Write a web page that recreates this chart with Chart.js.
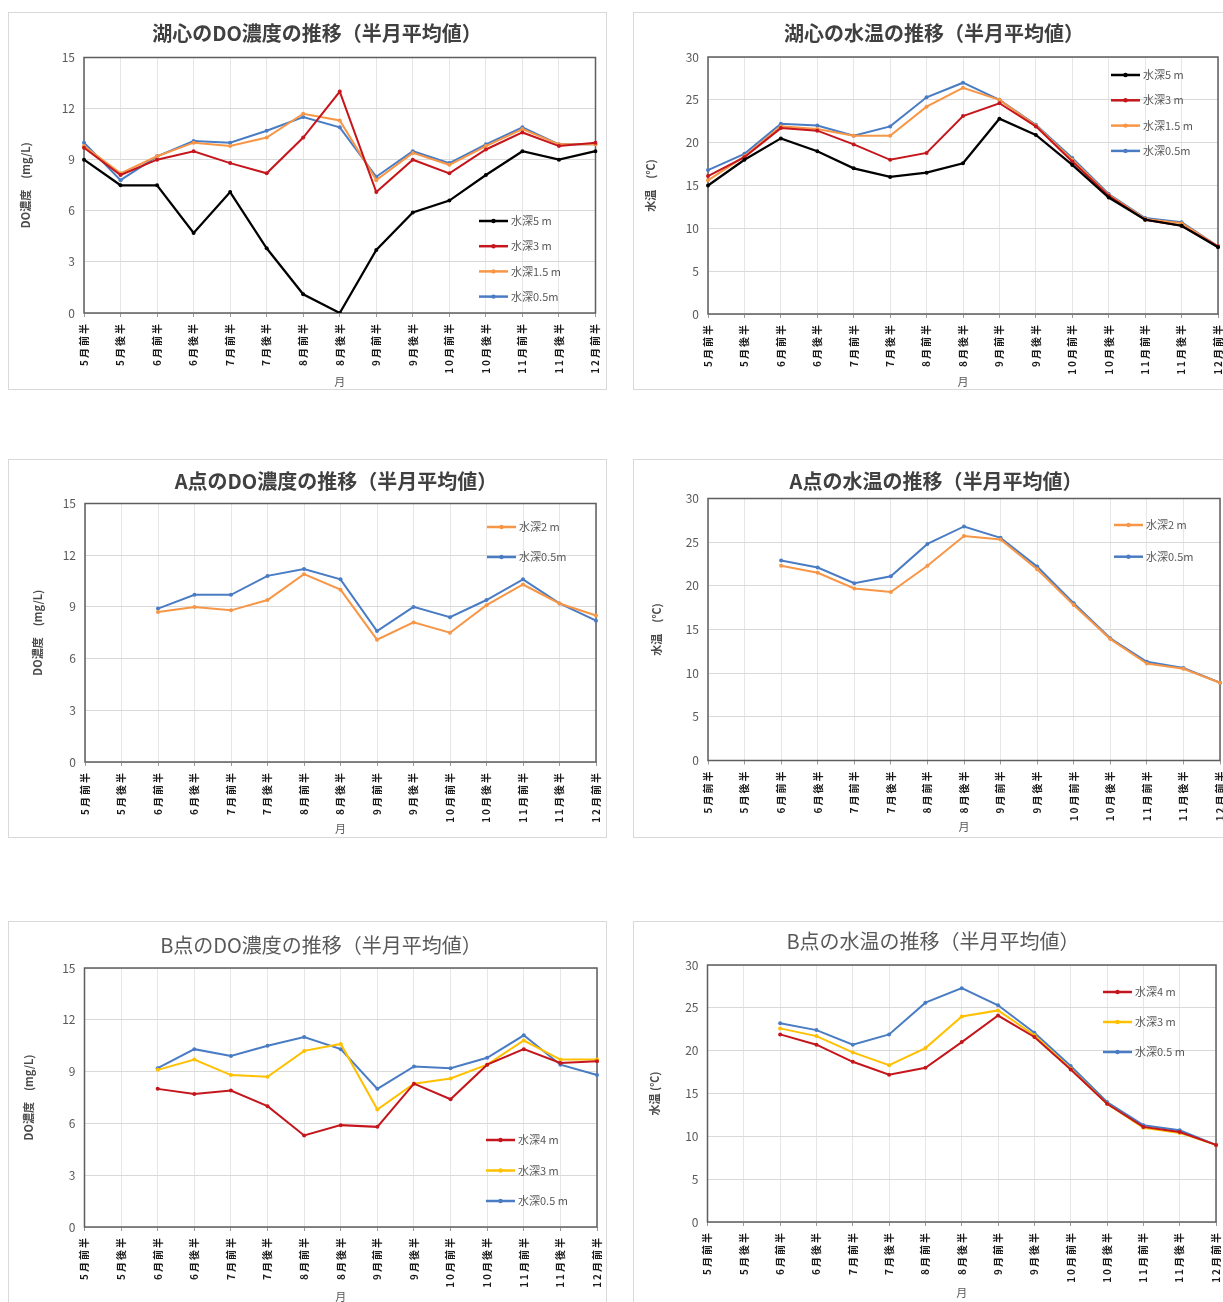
<!DOCTYPE html>
<html lang="ja">
<head>
<meta charset="utf-8">
<title>DO濃度・水温の推移（半月平均値）</title>
<script src="https://cdn.jsdelivr.net/npm/chart.js@4.4.1/dist/chart.umd.min.js"></script>
<style>
  html, body { margin: 0; padding: 0; background: #ffffff; overflow: hidden; width: 1223px; height: 1302px; }
  .frame { position: absolute; border: 1px solid #d9d9d9; box-sizing: border-box; background: #ffffff; }
  canvas { position: absolute; }
</style>
</head>
<body>
<script>
// ---- data -------------------------------------------------------------
const halfMonths = ['5月前半', '5月後半', '6月前半', '6月後半', '7月前半', '7月後半', '8月前半', '8月後半',
                    '9月前半', '9月後半', '10月前半', '10月後半', '11月前半', '11月後半', '12月前半'];

const doTicks = [0, 3, 6, 9, 12, 15];
const tempTicks = [0, 5, 10, 15, 20, 25, 30];

// 湖心 DO (mg/L)
const lakeDo5m  = [9.0, 7.5, 7.5, 4.7, 7.1, 3.8, 1.1, 0.0, 3.7, 5.9, 6.6, 8.1, 9.5, 9.0, 9.5];
const lakeDo3m  = [9.7, 8.1, 9.0, 9.5, 8.8, 8.2, 10.3, 13.0, 7.1, 9.0, 8.2, 9.6, 10.6, 9.8, 10.0];
const lakeDo15m = [9.8, 8.2, 9.2, 10.0, 9.8, 10.3, 11.7, 11.3, 7.8, 9.4, 8.7, 9.8, 10.8, 9.9, 9.9];
const lakeDo05m = [10.0, 7.8, 9.2, 10.1, 10.0, 10.7, 11.5, 10.9, 8.0, 9.5, 8.8, 9.9, 10.9, 9.9, 9.9];

// 湖心 水温 (℃)
const lakeT5m  = [15.0, 18.0, 20.5, 19.0, 17.0, 16.0, 16.5, 17.6, 22.8, 20.9, 17.4, 13.6, 11.0, 10.3, 7.8];
const lakeT3m  = [16.1, 18.3, 21.7, 21.4, 19.8, 18.0, 18.8, 23.1, 24.6, 21.9, 17.8, 13.8, 11.0, 10.3, 7.9];
const lakeT15m = [15.6, 18.4, 21.9, 21.6, 20.8, 20.8, 24.2, 26.4, 25.0, 22.0, 18.0, 13.9, 11.1, 10.6, 7.9];
const lakeT05m = [16.8, 18.7, 22.2, 22.0, 20.8, 21.9, 25.3, 27.0, 25.0, 22.1, 18.2, 14.0, 11.2, 10.7, 7.9];

// A点 DO (mg/L)
const aDo2m  = [null, null, 8.7, 9.0, 8.8, 9.4, 10.9, 10.0, 7.1, 8.1, 7.5, 9.1, 10.3, 9.2, 8.5];
const aDo05m = [null, null, 8.9, 9.7, 9.7, 10.8, 11.2, 10.6, 7.6, 9.0, 8.4, 9.4, 10.6, 9.2, 8.2];

// A点 水温 (℃)
const aT2m  = [null, null, 22.3, 21.5, 19.7, 19.3, 22.3, 25.7, 25.3, 21.9, 17.8, 13.9, 11.1, 10.5, 8.9];
const aT05m = [null, null, 22.9, 22.1, 20.3, 21.1, 24.8, 26.8, 25.5, 22.2, 18.0, 14.0, 11.3, 10.6, 8.9];

// B点 DO (mg/L)
const bDo4m  = [null, null, 8.0, 7.7, 7.9, 7.0, 5.3, 5.9, 5.8, 8.3, 7.4, 9.4, 10.3, 9.5, 9.6];
const bDo3m  = [null, null, 9.1, 9.7, 8.8, 8.7, 10.2, 10.6, 6.8, 8.3, 8.6, 9.4, 10.8, 9.7, 9.7];
const bDo05m = [null, null, 9.2, 10.3, 9.9, 10.5, 11.0, 10.3, 8.0, 9.3, 9.2, 9.8, 11.1, 9.4, 8.8];

// B点 水温 (℃)
const bT4m  = [null, null, 21.9, 20.7, 18.7, 17.2, 18.0, 21.0, 24.1, 21.6, 17.8, 13.8, 11.1, 10.5, 9.0];
const bT3m  = [null, null, 22.6, 21.7, 19.8, 18.3, 20.3, 24.0, 24.7, 21.8, 17.9, 13.8, 11.0, 10.4, 9.0];
const bT05m = [null, null, 23.2, 22.4, 20.7, 21.9, 25.6, 27.3, 25.3, 22.1, 18.2, 14.0, 11.3, 10.7, 9.0];

// ---- styling ----------------------------------------------------------
const FONT = "'Noto Sans CJK JP', 'Noto Sans', sans-serif";
const C_BLACK = '#000000';
const C_RED = '#c4161c';
const C_ORANGE = '#f79646';
const C_BLUE = '#4a7cc4';
const C_YELLOW = '#ffc000';

// Legend drawn inside the plot area: short line with a dot, then the label.
const insideLegend = {
  id: 'insideLegend',
  afterDraw(chart, args, opts) {
    if (!opts || opts.x === undefined) return;
    const ctx = chart.ctx;
    ctx.save();
    ctx.font = `${opts.fontSize || 11}px ${FONT}`;
    ctx.textBaseline = 'middle';
    chart.data.datasets.forEach((ds, i) => {
      const x = opts.x, y = opts.y + i * opts.gap;
      ctx.strokeStyle = ds.borderColor;
      ctx.lineWidth = 2.5;
      ctx.beginPath();
      ctx.moveTo(x, y);
      ctx.lineTo(x + 29, y);
      ctx.stroke();
      ctx.fillStyle = ds.borderColor;
      ctx.beginPath();
      ctx.arc(x + 14.5, y, 2.2, 0, Math.PI * 2);
      ctx.fill();
      ctx.fillStyle = '#595959';
      ctx.fillText(ds.label, x + 32, y);
    });
    ctx.restore();
  }
};

// Full frame around the plot area.
const plotFrame = {
  id: 'plotFrame',
  beforeDatasetsDraw(chart) {
    const {ctx, chartArea: a} = chart;
    ctx.save();
    ctx.strokeStyle = '#5e5e5e';
    ctx.lineWidth = 1.5;
    ctx.strokeRect(a.left, a.top, a.right - a.left, a.bottom - a.top);
    ctx.restore();
  }
};

// Rotated category labels are drawn slightly spaced out.
const spacedLabels = {
  id: 'spacedLabels',
  afterLayout(chart) {
    const sx = chart.scales.x;
    if (!sx || sx._spaced) return;
    const orig = sx.drawLabels;
    sx.drawLabels = function (area) {
      const c = this.ctx;
      const prev = c.letterSpacing;
      try { c.letterSpacing = '2px'; } catch (e) {}
      orig.call(this, area);
      try { c.letterSpacing = prev || '0px'; } catch (e) {}
    };
    sx._spaced = true;
  }
};

function series(label, data, color, width) {
  return {
    label, data,
    borderColor: color, backgroundColor: color,
    pointBackgroundColor: color, pointBorderColor: color,
    borderWidth: width || 2,
    pointRadius: 2, pointBorderWidth: 0, pointHoverRadius: 2,
    tension: 0, spanGaps: false
  };
}

function buildChart(spec) {
  const frame = document.createElement('div');
  frame.className = 'frame';
  Object.assign(frame.style, {
    left: spec.box.x + 'px', top: spec.box.y + 'px',
    width: spec.box.w + 'px', height: spec.box.h + 'px'
  });
  document.body.appendChild(frame);

  const X0 = spec.box.x, Y0 = spec.box.y;
  const titleSize = 20, titleLH = titleSize * 1.2;
  const axisTitleSize = 11, axisLH = axisTitleSize * 1.2;

  const W = Math.round(2 * (spec.titleCenter.x - X0));
  const H = Math.round(spec.xTitleY - Y0 + axisLH / 2 + 1);
  const titlePadTop = spec.titleCenter.y - Y0 - titleLH / 2;
  const titlePadBottom = spec.plot.t - Y0 - titlePadTop - titleLH;
  const yAxisW = spec.plot.l - X0;
  const rightW = W - (spec.plot.r - X0);
  const xAxisH = H - (spec.plot.b - Y0);
  const yTitlePad = spec.yTitleX - X0 - axisLH / 2;

  const canvas = document.createElement('canvas');
  canvas.width = W; canvas.height = H;
  canvas.style.left = X0 + 'px'; canvas.style.top = Y0 + 'px';
  canvas.style.width = W + 'px'; canvas.style.height = H + 'px';
  document.body.appendChild(canvas);

  const ticks = spec.yTicks;
  new Chart(canvas, {
    type: 'line',
    data: { labels: halfMonths, datasets: spec.datasets },
    options: {
      responsive: false,
      animation: false,
      devicePixelRatio: 1,
      layout: { padding: 0 },
      events: [],
      plugins: {
        legend: { display: false },
        tooltip: { enabled: false },
        title: {
          display: true,
          text: spec.title,
          color: spec.titleBold ? '#404040' : '#595959',
          font: { family: FONT, size: titleSize, weight: spec.titleBold ? 'bold' : 'normal', lineHeight: 1.2 },
          padding: { top: titlePadTop, bottom: titlePadBottom }
        },
        insideLegend: {
          x: spec.legend.x - X0, y: spec.legend.y - Y0, gap: spec.legend.gap, fontSize: 11
        }
      },
      scales: {
        x: {
          type: 'category',
          offset: false,
          grid: { display: true, color: '#e6e6e6', lineWidth: 1, drawTicks: true, tickLength: 4, tickColor: '#9a9a9a' },
          border: { display: false },
          ticks: {
            autoSkip: false, minRotation: 90, maxRotation: 90, padding: 5,
            color: '#1a1a1a', font: { family: FONT, size: 10, weight: 'bold' }
          },
          title: {
            display: true, text: '月', color: '#595959',
            font: { family: FONT, size: axisTitleSize, lineHeight: 1.2 },
            padding: { top: 0, bottom: 1 }
          },
          afterFit(s) { s.height = xAxisH; }
        },
        y: {
          min: ticks[0], max: ticks[ticks.length - 1],
          grid: { display: true, color: '#d9d9d9', lineWidth: 1, drawTicks: false },
          border: { display: false },
          ticks: {
            stepSize: ticks[1] - ticks[0], padding: 9,
            color: '#595959', font: { family: FONT, size: 12 }
          },
          title: {
            display: true, text: spec.yTitle, color: '#4a4a4a',
            font: { family: FONT, size: axisTitleSize, weight: 'bold', lineHeight: 1.2 },
            padding: { top: yTitlePad, bottom: 0 }
          },
          afterFit(s) { s.width = yAxisW; }
        },
        rightPad: {
          type: 'linear', position: 'right', display: true,
          grid: { display: false, drawTicks: false },
          border: { display: false },
          ticks: { display: false },
          afterFit(s) { s.width = rightW; }
        }
      }
    },
    plugins: [plotFrame, insideLegend, spacedLabels]
  });
}

// ---- the six panels ---------------------------------------------------
buildChart({
  box: { x: 8, y: 12, w: 599, h: 378 },
  title: '湖心のDO濃度の推移（半月平均値）', titleBold: true, titleCenter: { x: 317, y: 33 },
  plot: { l: 84, t: 57.5, r: 595.5, b: 313 },
  yTitle: 'DO濃度　(mg/L)', yTitleX: 26, xTitleY: 381, yTicks: doTicks,
  legend: { x: 479, y: 221, gap: 25.2 },
  datasets: [
    series('水深5 m', lakeDo5m, C_BLACK, 2.25),
    series('水深3 m', lakeDo3m, C_RED),
    series('水深1.5 m', lakeDo15m, C_ORANGE),
    series('水深0.5m', lakeDo05m, C_BLUE)
  ]
});

buildChart({
  box: { x: 633, y: 12, w: 620, h: 378 },
  title: '湖心の水温の推移（半月平均値）', titleBold: true, titleCenter: { x: 934, y: 33 },
  plot: { l: 708, t: 57, r: 1219, b: 314 },
  yTitle: '水温　(℃)', yTitleX: 651, xTitleY: 381, yTicks: tempTicks,
  legend: { x: 1111, y: 75, gap: 25.3 },
  datasets: [
    series('水深5 m', lakeT5m, C_BLACK, 2.25),
    series('水深3 m', lakeT3m, C_RED),
    series('水深1.5 m', lakeT15m, C_ORANGE),
    series('水深0.5m', lakeT05m, C_BLUE)
  ]
});

buildChart({
  box: { x: 8, y: 459, w: 599, h: 379 },
  title: 'A点のDO濃度の推移（半月平均値）', titleBold: true, titleCenter: { x: 336, y: 481 },
  plot: { l: 85, t: 503.5, r: 596, b: 762 },
  yTitle: 'DO濃度　(mg/L)', yTitleX: 38, xTitleY: 828, yTicks: doTicks,
  legend: { x: 487, y: 527, gap: 30 },
  datasets: [
    series('水深2 m', aDo2m, C_ORANGE),
    series('水深0.5m', aDo05m, C_BLUE)
  ]
});

buildChart({
  box: { x: 633, y: 459, w: 620, h: 379 },
  title: 'A点の水温の推移（半月平均値）', titleBold: true, titleCenter: { x: 936, y: 481 },
  plot: { l: 708, t: 498.5, r: 1220, b: 760.5 },
  yTitle: '水温　(℃)', yTitleX: 657, xTitleY: 826, yTicks: tempTicks,
  legend: { x: 1114, y: 525, gap: 31.7 },
  datasets: [
    series('水深2 m', aT2m, C_ORANGE),
    series('水深0.5m', aT05m, C_BLUE)
  ]
});

buildChart({
  box: { x: 8, y: 921, w: 599, h: 400 },
  title: 'B点のDO濃度の推移（半月平均値）', titleBold: false, titleCenter: { x: 321, y: 945 },
  plot: { l: 84.5, t: 968, r: 597, b: 1227 },
  yTitle: 'DO濃度　(mg/L)', yTitleX: 29, xTitleY: 1296, yTicks: doTicks,
  legend: { x: 486, y: 1140, gap: 30.5 },
  datasets: [
    series('水深4 m', bDo4m, C_RED),
    series('水深3 m', bDo3m, C_YELLOW),
    series('水深0.5 m', bDo05m, C_BLUE)
  ]
});

buildChart({
  box: { x: 633, y: 921, w: 620, h: 400 },
  title: 'B点の水温の推移（半月平均値）', titleBold: false, titleCenter: { x: 933, y: 941 },
  plot: { l: 707.5, t: 965, r: 1219, b: 1222 },
  yTitle: '水温 (℃)', yTitleX: 655, xTitleY: 1292, yTicks: tempTicks,
  legend: { x: 1103, y: 992, gap: 30 },
  datasets: [
    series('水深4 m', bT4m, C_RED),
    series('水深3 m', bT3m, C_YELLOW),
    series('水深0.5 m', bT05m, C_BLUE)
  ]
});
</script>
</body>
</html>
